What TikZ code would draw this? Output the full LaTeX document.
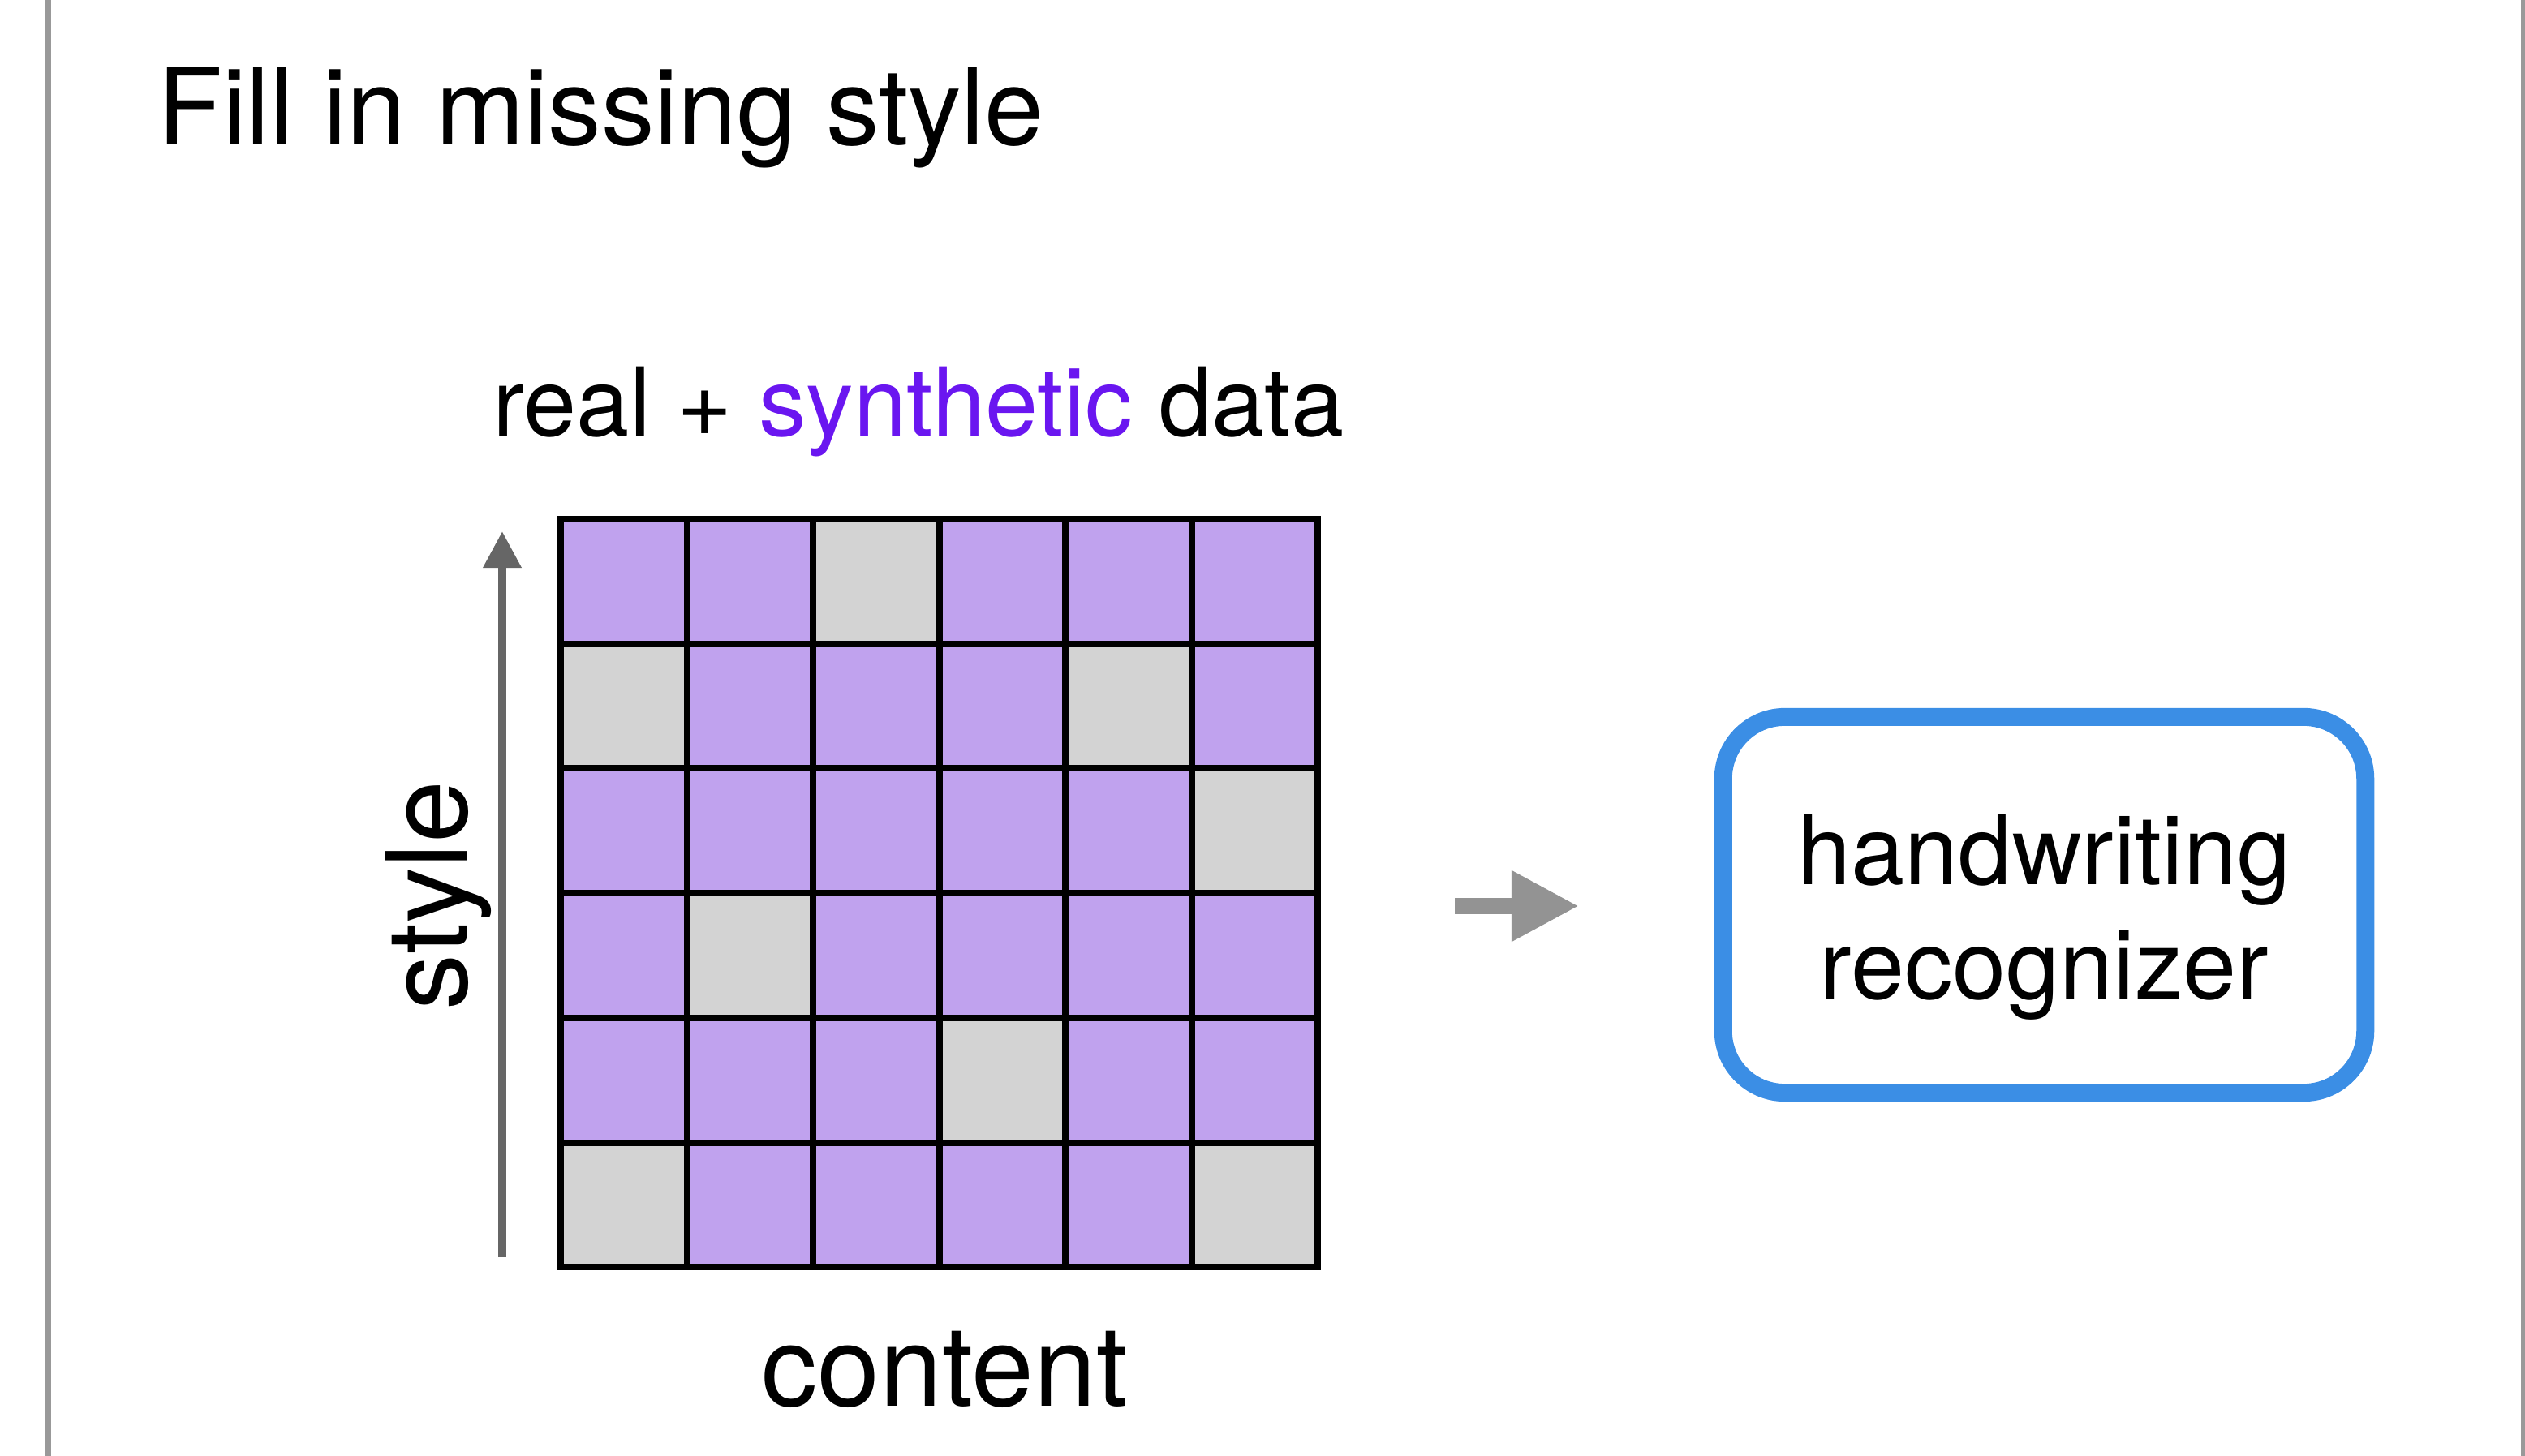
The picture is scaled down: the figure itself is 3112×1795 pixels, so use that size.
\documentclass[tikz,border=0pt]{standalone}
\usepackage{fontspec}
\setmainfont{TeX Gyre Heros}
\usetikzlibrary{arrows.meta}

\definecolor{cellpurple}{RGB}{192,162,238}
\definecolor{cellgray}{RGB}{211,211,211}
\definecolor{synthpurple}{RGB}{106,22,240}
\definecolor{recogblue}{RGB}{59,142,229}
\definecolor{framegray}{RGB}{153,153,153}
\definecolor{axisgray}{RGB}{102,102,102}
\definecolor{arrowgray}{RGB}{147,147,147}

\begin{document}
\begin{tikzpicture}[x=0.01cm,y=-0.01cm,
  frameline/.style={framegray,line width=0.08cm},
  cellline/.style={black,line width=0.08cm,line cap=rect},
  axisarrow/.style={axisgray,line width=0.1cm,-{Triangle[length=0.45cm,width=0.45cm]}},
  bigarrow/.style={arrowgray,line width=0.2cm,-{Triangle[length=0.83cm,width=0.82cm]}},
  titletext/.style={inner sep=0,font=\fontsize{37.3}{44}\selectfont},
  datatext/.style={inner sep=0,font=\fontsize{33.3}{40}\selectfont},
  axistext/.style={inner sep=0,font=\fontsize{39.3}{46}\selectfont},
  recogbox/.style={draw=recogblue,line width=0.22cm,rounded corners=0.76cm,
    minimum width=7.91cm,minimum height=4.63cm,inner sep=0,align=center,
    text height=2.40cm,text depth=0.09cm,font=\fontsize{33.8}{40.1}\selectfont}]
\useasboundingbox (0,0) rectangle (3112,1795);

% side rules
\draw[frameline] (59,0) -- (59,1795);
\draw[frameline] (3111,0) -- (3111,1795);

\node[titletext,anchor=base west] (title) at (194,179) {Fill in missing style};

% style x content grid
\fill[cellpurple] (691,640) rectangle (1624,1562);
\foreach \c/\r in {2/0,0/1,4/1,5/2,1/3,3/4,0/5,5/5}
  \fill[cellgray] ({691+\c*155.5},{640+\r*153.7}) rectangle ++(155.5,153.7);
\foreach \i in {0,...,6} {
  \draw[cellline] ({691+\i*155.5},640) -- ++(0,922);
  \draw[cellline] (691,{640+\i*153.7}) -- ++(933,0);
}

\node[datatext,anchor=base] (data) at (1132,538) {real + \textcolor{synthpurple}{synthetic} data};
\node[axistext,anchor=base] (content) at (1164,1733) {content};
\node[axistext,anchor=base,rotate=90] (style) at (575,1104) {style};

\coordinate (styleBot) at (619,1550);
\coordinate (styleTop) at (619,655);
\draw[axisarrow] (styleBot) -- (styleTop);

% to the recognizer
\node[recogbox] (recog) at (2519.5,1115.5) {handwriting\\recognizer};
\coordinate (arrowS) at (1793,1117);
\coordinate (arrowE) at (1946,1117);
\draw[bigarrow] (arrowS) -- (arrowE);

\end{tikzpicture}
\end{document}
